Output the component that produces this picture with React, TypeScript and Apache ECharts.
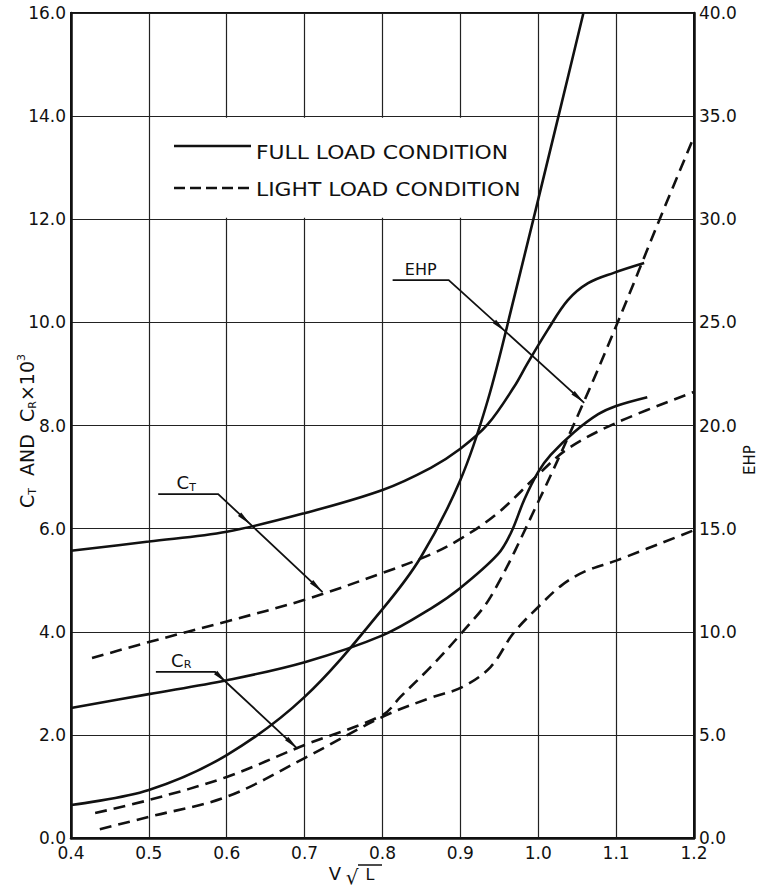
import React, { useEffect, useRef } from "react";
import * as echarts from "echarts";

// ---- data ----
const ctFullX = [0.4, 0.5, 0.6, 0.7, 0.8, 0.862, 0.9, 0.935, 0.969, 0.986, 1.012, 1.038, 1.064, 1.097, 1.136];
const ctFullY = [5.57, 5.75, 5.94, 6.3, 6.75, 7.18, 7.55, 8.02, 8.75, 9.2, 9.85, 10.43, 10.76, 10.96, 11.15];

const crFullX = [0.4, 0.5, 0.6, 0.7, 0.8, 0.862, 0.9, 0.948, 0.965, 0.982, 1.0, 1.016, 1.046, 1.077, 1.1, 1.14];
const crFullY = [2.52, 2.79, 3.06, 3.41, 3.93, 4.45, 4.85, 5.5, 5.92, 6.56, 7.1, 7.43, 7.87, 8.22, 8.38, 8.55];

const ehpFullX = [0.4, 0.5, 0.6, 0.7, 0.8, 0.849, 0.9, 0.935, 0.969, 1.026, 1.058];
const ehpFullY = [1.6, 2.33, 4.02, 6.84, 11.1, 13.6, 17.36, 21.2, 26.2, 35.0, 40.0];

const ctLightX = [0.427, 0.5, 0.6, 0.7, 0.8, 0.862, 0.9, 0.948, 1.0, 1.038, 1.1, 1.2];
const ctLightY = [3.49, 3.8, 4.2, 4.62, 5.14, 5.5, 5.8, 6.3, 7.05, 7.55, 8.05, 8.65];

const crLightX = [0.437, 0.5, 0.6, 0.7, 0.8, 0.862, 0.903, 0.939, 0.968, 1.0, 1.03, 1.06, 1.1, 1.2];
const crLightY = [0.17, 0.41, 0.8, 1.55, 2.35, 2.72, 2.93, 3.32, 3.97, 4.48, 4.9, 5.17, 5.38, 5.97];

const ehpLightX = [0.431, 0.5, 0.6, 0.7, 0.8, 0.823, 0.862, 0.903, 0.939, 1.0, 1.058, 1.102, 1.157, 1.2];
const ehpLightY = [1.21, 1.84, 2.96, 4.51, 5.96, 6.84, 8.3, 10.0, 11.7, 16.3, 21.1, 25.0, 30.1, 34.0];

// axis ranges
const xRange = [0.4, 1.2, 0.1];
const leftRange = [0, 16, 2];
const rightRange = [0, 40, 5];

// legend labels
const legendLabels = ["FULL LOAD CONDITION", "LIGHT LOAD CONDITION"];

// annotation leaders (data coords on left axis), arrow positions along diagonal
const leaders = [
  { label: "C{s|T}", at: [0.548, 6.885], pts: [[0.512, 6.67], [0.589, 6.67], [0.723, 4.77]], arrows: [0.31, 1] },
  { label: "C{s|R}", at: [0.5415, 3.452], pts: [[0.509, 3.22], [0.585, 3.22], [0.691, 1.73]], arrows: [0.14, 1] },
  { label: "EHP", at: [0.849, 11.035], pts: [[0.813, 10.82], [0.885, 10.82], [1.059, 8.44]], arrows: [0.42, 1] },
];

const FONT = "DejaVu Sans";
const INK = "#111";

const pair = (xs: number[], ys: number[]) => xs.map((x, i) => [x, ys[i]]);

const seriesDefs = [
  { name: "CT full load", x: ctFullX, y: ctFullY, axis: 0, dashed: false },
  { name: "CR full load", x: crFullX, y: crFullY, axis: 0, dashed: false },
  { name: "EHP full load", x: ehpFullX, y: ehpFullY, axis: 1, dashed: false },
  { name: "CT light load", x: ctLightX, y: ctLightY, axis: 0, dashed: true },
  { name: "CR light load", x: crLightX, y: crLightY, axis: 0, dashed: true },
  { name: "EHP light load", x: ehpLightX, y: ehpLightY, axis: 1, dashed: true },
];

function arrowHead(p: number[], q: number[], t: number, len = 15, hw = 2.4) {
  const dx = q[0] - p[0];
  const dy = q[1] - p[1];
  const L = Math.hypot(dx, dy);
  const ux = dx / L;
  const uy = dy / L;
  const tip = [p[0] + dx * t, p[1] + dy * t];
  const base = [tip[0] - ux * len, tip[1] - uy * len];
  return [tip, [base[0] - uy * hw, base[1] + ux * hw], [base[0] + uy * hw, base[1] - ux * hw]];
}

export default function App() {
  const ref = useRef<HTMLDivElement>(null);

  useEffect(() => {
    document.body.style.margin = "0";
    const el = ref.current!;
    const chart = echarts.init(el, null, { renderer: "svg" });

    const labelStyle = { color: INK, fontFamily: FONT, fontSize: 17 };

    chart.setOption({
      animation: false,
      backgroundColor: "#fff",
      grid: { left: 71, right: 64, top: 13, bottom: 50, show: true, borderColor: INK, borderWidth: 2, backgroundColor: "transparent" },
      xAxis: {
        type: "value",
        min: xRange[0],
        max: xRange[1],
        interval: xRange[2],
        axisLine: { show: true, lineStyle: { color: INK, width: 2.5 } },
        axisTick: { show: false },
        splitLine: { show: true, lineStyle: { color: "#222", width: 1.2 } },
        axisLabel: { ...labelStyle, margin: 6, formatter: (v: number) => v.toFixed(1) },
      },
      yAxis: [
        {
          type: "value",
          min: leftRange[0],
          max: leftRange[1],
          interval: leftRange[2],
          axisLine: { show: true, lineStyle: { color: INK, width: 2.5 } },
          axisTick: { show: false },
          splitLine: { show: true, lineStyle: { color: "#222", width: 1.2 } },
          axisLabel: { ...labelStyle, margin: 5, formatter: (v: number) => v.toFixed(1) },
        },
        {
          type: "value",
          position: "right",
          min: rightRange[0],
          max: rightRange[1],
          interval: rightRange[2],
          axisLine: { show: true, lineStyle: { color: INK, width: 2.5 } },
          axisTick: { show: false },
          splitLine: { show: false },
          axisLabel: { ...labelStyle, margin: 5, formatter: (v: number) => v.toFixed(1) },
        },
      ],
      series: seriesDefs.map((s) => ({
        type: "line",
        name: s.name,
        yAxisIndex: s.axis,
        data: pair(s.x, s.y),
        showSymbol: false,
        smooth: 0.35,
        silent: true,
        z: 3,
        lineStyle: { color: INK, width: 2.6, type: s.dashed ? [12, 7] : "solid" },
      })),
    });

    const px = (p: number[], yi = 0) => chart.convertToPixel({ xAxisIndex: 0, yAxisIndex: yi }, p) as number[];
    const g: any[] = [];

    // white legend box hiding gridlines
    const b0 = px([0.5, 14]);
    const b1 = px([1.0, 12]);
    g.push({ type: "rect", z: 1, shape: { x: b0[0] + 2, y: b0[1] + 1.5, width: b1[0] - b0[0] - 4, height: b1[1] - b0[1] - 3 }, style: { fill: "#fff" } });

    // legend
    g.push({ type: "line", z: 10, shape: { x1: 174, y1: 146, x2: 251, y2: 146 }, style: { stroke: INK, lineWidth: 2.6 } });
    g.push({ type: "line", z: 10, shape: { x1: 174, y1: 188, x2: 251, y2: 188 }, style: { stroke: INK, lineWidth: 2.6, lineDash: [11, 5] } });
    g.push({ type: "text", z: 10, x: 256, y: 153, scaleX: 1.15, style: { text: legendLabels[0], fill: INK, fontFamily: FONT, fontSize: 19, align: "left", verticalAlign: "middle", textAlign: "left", textVerticalAlign: "middle" } });
    g.push({ type: "text", z: 10, x: 256, y: 190, scaleX: 1.15, style: { text: legendLabels[1], fill: INK, fontFamily: FONT, fontSize: 19, align: "left", verticalAlign: "middle", textAlign: "left", textVerticalAlign: "middle" } });

    // leaders
    leaders.forEach((ld) => {
      const pts = ld.pts.map((p) => px(p));
      g.push({ type: "polyline", z: 10, shape: { points: pts }, style: { stroke: INK, lineWidth: 1.8, fill: null } });
      ld.arrows.forEach((t) => {
        g.push({ type: "polygon", z: 10, shape: { points: arrowHead(pts[1], pts[2], t) }, style: { fill: INK } });
      });
      const a = px(ld.at);
      g.push({
        type: "text",
        z: 10,
        x: a[0],
        y: a[1],
        style: {
          text: ld.label,
          fill: INK,
          fontFamily: FONT,
          fontSize: ld.label === "EHP" ? 16 : 18,
          align: "center",
          verticalAlign: "middle",
          textAlign: "center",
          textVerticalAlign: "middle",
          lineHeight: 20,
          rich: { s: { fontSize: 11, fontFamily: FONT, fill: INK, verticalAlign: "bottom", lineHeight: 20 } },
        },
      });
    });

    // left axis name
    g.push({
      type: "text",
      z: 10,
      x: 27,
      y: 431,
      rotation: Math.PI / 2,
      style: {
        text: "C{s|T}  AND  C{s|R}×10{u|3}",
        fill: INK,
        fontFamily: FONT,
        fontSize: 19,
        lineHeight: 22,
        align: "center",
        verticalAlign: "middle",
        textAlign: "center",
        textVerticalAlign: "middle",
        rich: {
          s: { fontSize: 11, fontFamily: FONT, fill: INK, verticalAlign: "bottom", lineHeight: 22 },
          u: { fontSize: 11, fontFamily: FONT, fill: INK, verticalAlign: "top", lineHeight: 22 },
        },
      },
    });

    // right axis name
    g.push({
      type: "text",
      z: 10,
      x: 750,
      y: 460,
      rotation: Math.PI / 2,
      style: { text: "EHP", fill: INK, fontFamily: FONT, fontSize: 15, align: "center", verticalAlign: "middle", textAlign: "center", textVerticalAlign: "middle" },
    });

    // x axis name  V √L
    g.push({ type: "text", z: 10, x: 335, y: 873, style: { text: "V", fill: INK, fontFamily: FONT, fontSize: 18, align: "center", verticalAlign: "middle", textAlign: "center", textVerticalAlign: "middle" } });
    g.push({ type: "text", z: 10, x: 352, y: 877, style: { text: "√", fill: INK, fontFamily: FONT, fontSize: 20, align: "center", verticalAlign: "middle", textAlign: "center", textVerticalAlign: "middle" } });
    g.push({ type: "text", z: 10, x: 370, y: 874, style: { text: "L", fill: INK, fontFamily: FONT, fontSize: 16, align: "center", verticalAlign: "middle", textAlign: "center", textVerticalAlign: "middle" } });
    g.push({ type: "line", z: 10, shape: { x1: 358, y1: 865, x2: 382, y2: 865 }, style: { stroke: INK, lineWidth: 1.5 } });

    chart.setOption({ graphic: g });

    return () => chart.dispose();
  }, []);

  return <div ref={ref} style={{ width: 758, height: 888 }} />;
}
